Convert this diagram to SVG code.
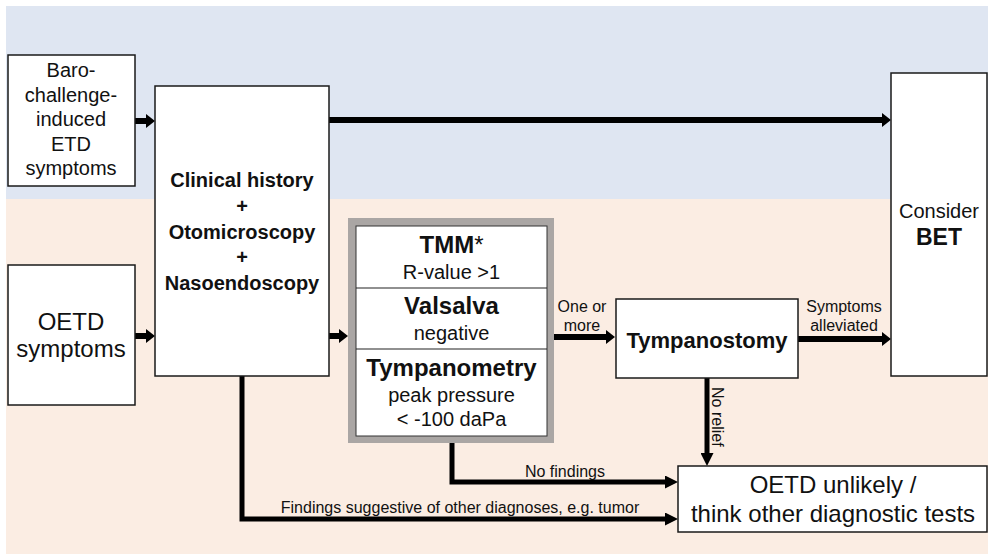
<svg xmlns="http://www.w3.org/2000/svg" width="988" height="554" viewBox="0 0 988 554">
<defs>
<style>
text{font-family:"Liberation Sans",Arial,sans-serif;fill:#111;text-anchor:middle}
.box{fill:#fff;stroke:#1a1a1a;stroke-width:1.5}
.b{font-weight:bold}
.t20{font-size:20px}
.t24{font-size:24px}
.t16{font-size:16px}
.lw6{fill:none;stroke:#000;stroke-width:6}
.lw5{fill:none;stroke:#000;stroke-width:5}
</style>
<marker id="ah" markerUnits="userSpaceOnUse" markerWidth="9" markerHeight="14" refX="4" refY="7" orient="auto">
<path d="M0,0 L9,7 L0,14 z" fill="#000"/>
</marker>
<marker id="ahl" markerUnits="userSpaceOnUse" markerWidth="13" markerHeight="13" refX="5" refY="6.5" orient="auto">
<path d="M0,0 L13,6.5 L0,13 z" fill="#000"/>
</marker>
</defs>
<rect x="6" y="6" width="982" height="193" fill="#dfe6f2"/>
<rect x="6" y="199" width="982" height="355" fill="#fbede3"/>

<g id="connectors">
<line class="lw6" x1="135" y1="121" x2="150" y2="121" marker-end="url(#ah)"/>
<line class="lw6" x1="135" y1="336" x2="150" y2="336" marker-end="url(#ah)"/>
<line class="lw6" x1="329" y1="120" x2="886" y2="120" marker-end="url(#ah)"/>
<line class="lw6" x1="329" y1="336" x2="343" y2="336" marker-end="url(#ah)"/>
<line class="lw6" x1="554" y1="337" x2="610" y2="337" marker-end="url(#ah)"/>
<text class="t16" x="582" y="312">One or</text>
<text class="t16" x="582" y="331">more</text>
<line class="lw6" x1="798" y1="339" x2="886" y2="339" marker-end="url(#ah)"/>
<text class="t16" x="844" y="312">Symptoms</text>
<text class="t16" x="844" y="331">alleviated</text>
<line class="lw5" x1="707" y1="378" x2="707" y2="458" marker-end="url(#ahl)"/>
<text class="t16" style="text-anchor:start" transform="translate(712,387) rotate(90)">No relief</text>
<path class="lw5" d="M452,443 V482 H670" marker-end="url(#ahl)"/>
<text class="t16" x="565" y="477">No findings</text>
<path class="lw5" d="M242,376 V519 H670" marker-end="url(#ahl)"/>
<text class="t16" x="460" y="513">Findings suggestive of other diagnoses, e.g. tumor</text>
</g>

<g id="baro">
<rect class="box" x="8" y="55" width="127" height="131"/>
<text class="t20" x="71" y="77">Baro-</text>
<text class="t20" x="71" y="101.5">challenge-</text>
<text class="t20" x="71" y="126">induced</text>
<text class="t20" x="71" y="150.5">ETD</text>
<text class="t20" x="71" y="175">symptoms</text>
</g>

<g id="oetd">
<rect class="box" x="8" y="265" width="127" height="140"/>
<text class="t24" x="71" y="330">OETD</text>
<text class="t24" x="71" y="357">symptoms</text>
</g>

<g id="clinical">
<rect class="box" x="155" y="86" width="174" height="290"/>
<text class="t20 b" x="242" y="187">Clinical history</text>
<text class="t20 b" x="242" y="212.5">+</text>
<text class="t20 b" x="242" y="238.5">Otomicroscopy</text>
<text class="t20 b" x="242" y="264">+</text>
<text class="t20 b" x="242" y="290">Nasoendoscopy</text>
</g>

<g id="tests">
<rect x="348" y="218" width="206" height="225" fill="#aaa6a4"/>
<rect x="356" y="226" width="191" height="210" fill="#fff" stroke="#333" stroke-width="1"/>
<line x1="356" y1="288" x2="547" y2="288" stroke="#222" stroke-width="1.2"/>
<line x1="356" y1="349" x2="547" y2="349" stroke="#222" stroke-width="1.2"/>
<text class="t24 b" x="451.5" y="253">TMM<tspan style="font-weight:normal">*</tspan></text>
<text class="t20" x="451.5" y="278.5">R-value &gt;1</text>
<text class="t24 b" x="451.5" y="314">Valsalva</text>
<text class="t20" x="451.5" y="340">negative</text>
<text class="t24 b" x="451.5" y="375.5">Tympanometry</text>
<text class="t20" x="451.5" y="401.5">peak pressure</text>
<text class="t20" x="451.5" y="425.5">&lt; -100 daPa</text>
</g>

<g id="tympanostomy">
<rect class="box" x="616" y="299" width="182" height="79"/>
<text class="b" style="font-size:22px" x="707" y="348">Tympanostomy</text>
</g>

<g id="bet">
<rect class="box" x="891" y="73" width="96" height="303"/>
<text class="t20" x="939" y="218">Consider</text>
<text class="b" style="font-size:23px" x="939" y="245">BET</text>
</g>

<g id="unlikely">
<rect class="box" x="678" y="466" width="309" height="66"/>
<text class="t24" x="833" y="493">OETD unlikely /</text>
<text class="t24" x="833" y="522">think other diagnostic tests</text>
</g>
</svg>
